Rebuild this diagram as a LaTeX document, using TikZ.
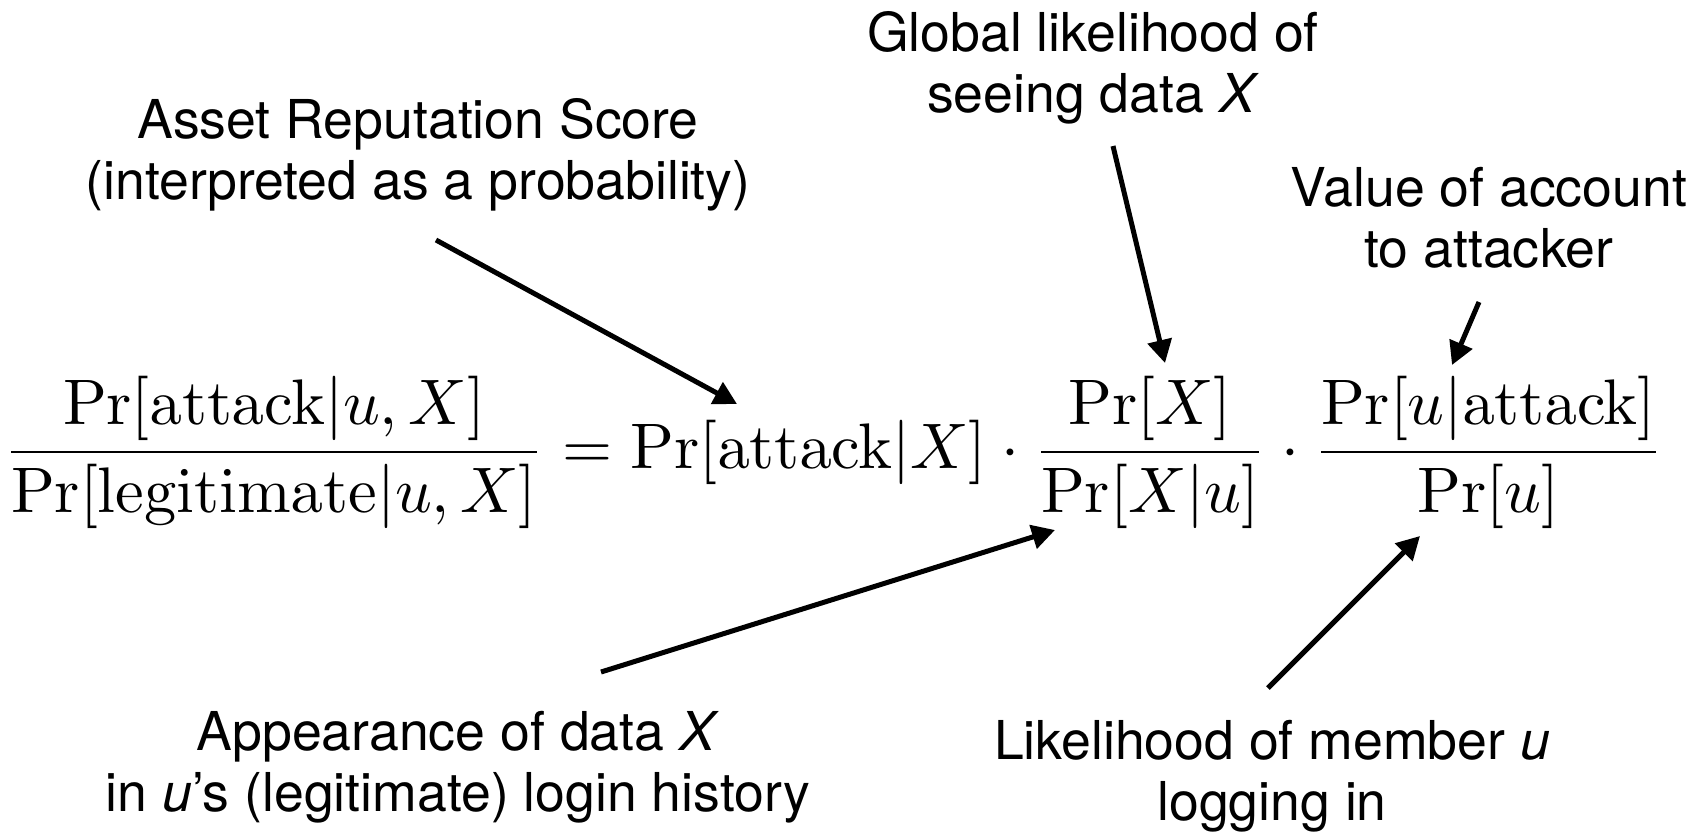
\documentclass[tikz,border=0pt]{standalone}
\usepackage[no-math]{fontspec}
\newfontfamily\lab{TeX Gyre Heros}
\usetikzlibrary{arrows.meta}
\tikzset{
  lbl/.style={font=\lab\fontsize{26.8}{30.5}\selectfont, align=center, inner sep=0pt, anchor=base},
  eqn/.style={inner sep=0pt, anchor=base west},
  pointer/.style={line width=2.5pt, -{Triangle[length=11.5pt,width=12pt]}}
}
\begin{document}
\begin{tikzpicture}[x=0.5pt,y=-0.5pt]
\useasboundingbox[fill=white] (0,0) rectangle (1708,837);
\node[eqn] (eq) at (3,468) {\scalebox{3.22}{$\displaystyle \frac{\Pr[\mathrm{attack}|u,X]}{\Pr[\mathrm{legitimate}|u,X]} = \Pr[\mathrm{attack}|X]\cdot\frac{\Pr[X]}{\Pr[X|u]}\cdot\frac{\Pr[u|\mathrm{attack}]}{\Pr[u]}$}};

% anchor=base of a multi-line node is the baseline of its last line
\node[lbl] (asset) at (418,199) {Asset Reputation Score\\(interpreted as a probability)};
\node[lbl] (global) at (1093,112) {Global likelihood of\\seeing data \textit{X}};
\node[lbl] (value) at (1489,267) {Value of account\\to attacker};
\node[lbl] (appear) at (458,811) {Appearance of data \textit{X}\\in \textit{u}’s (legitimate) login history};
\node[lbl] (likely) at (1272,820) {Likelihood of member \textit{u}\\logging in};

\coordinate (a1s) at (436,240); \coordinate (a1e) at (737,404);
\coordinate (a2s) at (1113,146); \coordinate (a2e) at (1165,363);
\coordinate (a3s) at (1479,302); \coordinate (a3e) at (1452,365);
\coordinate (a4s) at (601,672); \coordinate (a4e) at (1055,530);
\coordinate (a5s) at (1268,688); \coordinate (a5e) at (1420,536);

\draw[pointer] (a1s) -- (a1e);
\draw[pointer] (a2s) -- (a2e);
\draw[pointer] (a3s) -- (a3e);
\draw[pointer] (a4s) -- (a4e);
\draw[pointer] (a5s) -- (a5e);
\end{tikzpicture}
\end{document}
